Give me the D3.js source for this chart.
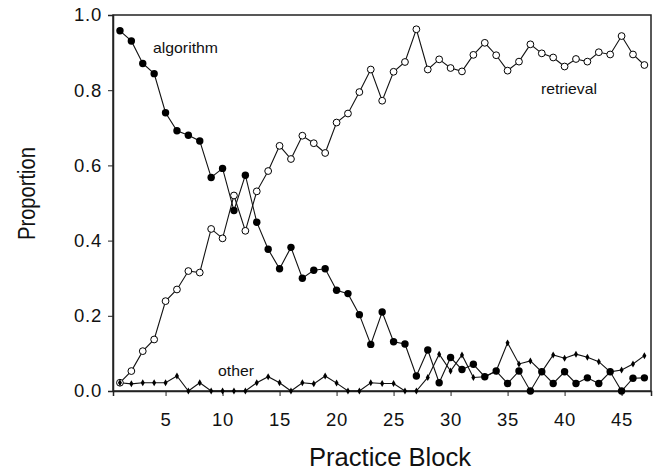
<!DOCTYPE html>
<html>
<head>
<meta charset="utf-8">
<script src="https://cdn.jsdelivr.net/npm/d3@7"></script>
<style>
  html, body { margin: 0; padding: 0; background: #fff; }
  svg text { font-family: Arial, "Liberation Sans", Helvetica, sans-serif; fill: #111; }
</style>
</head>
<body>
<svg id="chart" width="657" height="475"></svg>
<script>
// Practice blocks 1..47
const blocks = d3.range(1, 48);

// Proportion of trials solved by each strategy, per block
const algorithm = [
  0.958, 0.931, 0.871, 0.844, 0.740, 0.692, 0.680, 0.665, 0.568, 0.592,
  0.480, 0.574, 0.449, 0.377, 0.325, 0.382, 0.300, 0.321, 0.325, 0.268,
  0.259, 0.203, 0.124, 0.210, 0.131, 0.125, 0.040, 0.109, 0.022, 0.089,
  0.057, 0.071, 0.038, 0.053, 0.020, 0.053, 0.000, 0.051, 0.020, 0.051,
  0.020, 0.035, 0.020, 0.051, 0.000, 0.034, 0.035
];
const retrieval = [
  0.022, 0.053, 0.106, 0.137, 0.239, 0.270, 0.319, 0.315, 0.431, 0.406,
  0.520, 0.426, 0.531, 0.585, 0.652, 0.617, 0.679, 0.659, 0.633, 0.714,
  0.738, 0.795, 0.855, 0.772, 0.849, 0.875, 0.962, 0.855, 0.882, 0.859,
  0.850, 0.894, 0.926, 0.893, 0.852, 0.876, 0.922, 0.898, 0.887, 0.863,
  0.883, 0.876, 0.901, 0.895, 0.944, 0.895, 0.867
];
const other = [
  0.022, 0.019, 0.022, 0.022, 0.022, 0.040, 0.000, 0.022, 0.000, 0.000,
  0.000, 0.000, 0.022, 0.038, 0.022, 0.000, 0.022, 0.019, 0.040, 0.021,
  0.000, 0.000, 0.022, 0.020, 0.020, 0.000, 0.000, 0.036, 0.098, 0.053,
  0.096, 0.036, 0.038, 0.053, 0.128, 0.072, 0.080, 0.051, 0.096, 0.087,
  0.098, 0.090, 0.078, 0.051, 0.056, 0.072, 0.094
];

const xTicks = [5, 10, 15, 20, 25, 30, 35, 40, 45];
const yTicks = [0, 0.2, 0.4, 0.6, 0.8, 1.0];

const seriesLabels = ["algorithm", "retrieval", "other"];
const xTitle = "Practice Block";
const yTitle = "Proportion";

const svg = d3.select("#chart");
const margin = { top: 15, right: 6, bottom: 84, left: 113 };
const W = 657, H = 475;

const x = d3.scaleLinear().domain([0.39, 47.58]).range([margin.left, W - margin.right]);
const y = d3.scaleLinear().domain([0, 1]).range([H - margin.bottom, margin.top]);

// frame
svg.append("rect")
  .attr("x", x.range()[0]).attr("y", y.range()[1])
  .attr("width", x.range()[1] - x.range()[0])
  .attr("height", y.range()[0] - y.range()[1])
  .attr("fill", "none").attr("stroke", "#222").attr("stroke-width", 1.5);

// axes
const xAxis = svg.append("g")
  .attr("transform", `translate(0,${y(0)})`)
  .call(d3.axisBottom(x).tickValues(xTicks).tickSize(5).tickPadding(17).tickFormat(d3.format("d")));
const yAxis = svg.append("g")
  .attr("transform", `translate(${x.range()[0]},0)`)
  .call(d3.axisLeft(y).tickValues(yTicks).tickSize(5).tickPadding(6).tickFormat(d3.format(".1f")));

[xAxis, yAxis].forEach(g => {
  g.select(".domain").attr("stroke", "#222").attr("stroke-width", 1.5);
  g.selectAll(".tick line").attr("stroke", "#222").attr("stroke-width", 1);
  g.selectAll(".tick text")
    .attr("fill", "#111")
    .style("font-size", "18.5px")
    .style("letter-spacing", "0.8px")
    .style("font-family", "Arial, 'Liberation Sans', sans-serif");
});

// lines
const line = d3.line().x((d, i) => x(blocks[i])).y(d => y(d));
const plot = svg.append("g");
[algorithm, retrieval, other].forEach(vals => {
  plot.append("path")
    .attr("d", line(vals))
    .attr("fill", "none")
    .attr("stroke", "#111")
    .attr("stroke-width", 1.1);
});

// markers: filled circles for algorithm
plot.append("g").selectAll("circle")
  .data(algorithm).join("circle")
  .attr("cx", (d, i) => x(blocks[i])).attr("cy", d => y(d))
  .attr("r", 3.7).attr("fill", "#000");

// open circles for retrieval
plot.append("g").selectAll("circle")
  .data(retrieval).join("circle")
  .attr("cx", (d, i) => x(blocks[i])).attr("cy", d => y(d))
  .attr("r", 3.4).attr("fill", "#fff").attr("stroke", "#000").attr("stroke-width", 1);

// small diamonds for other
const diamond = d3.symbol().type(d3.symbolDiamond).size(14);
plot.append("g").selectAll("path")
  .data(other).join("path")
  .attr("transform", (d, i) => `translate(${x(blocks[i])},${y(d)})`)
  .attr("d", diamond).attr("fill", "#000");

// series labels
const lab = (txt, xx, yy, len) => svg.append("text")
  .attr("x", xx).attr("y", yy)
  .attr("textLength", len).attr("lengthAdjust", "spacingAndGlyphs")
  .style("font-size", "15px").text(txt);
lab(seriesLabels[0], 153, 53, 65);
lab(seriesLabels[1], 541, 94, 56);
lab(seriesLabels[2], 218, 376, 36);

// axis titles
svg.append("text")
  .attr("x", 390).attr("y", 466)
  .attr("text-anchor", "middle")
  .attr("textLength", 162).attr("lengthAdjust", "spacingAndGlyphs")
  .style("font-size", "25px")
  .text(xTitle);
svg.append("text")
  .attr("transform", "translate(35,193.5) rotate(-90)")
  .attr("text-anchor", "middle")
  .attr("textLength", 93).attr("lengthAdjust", "spacingAndGlyphs")
  .style("font-size", "23.5px")
  .text(yTitle);
</script>
</body>
</html>
